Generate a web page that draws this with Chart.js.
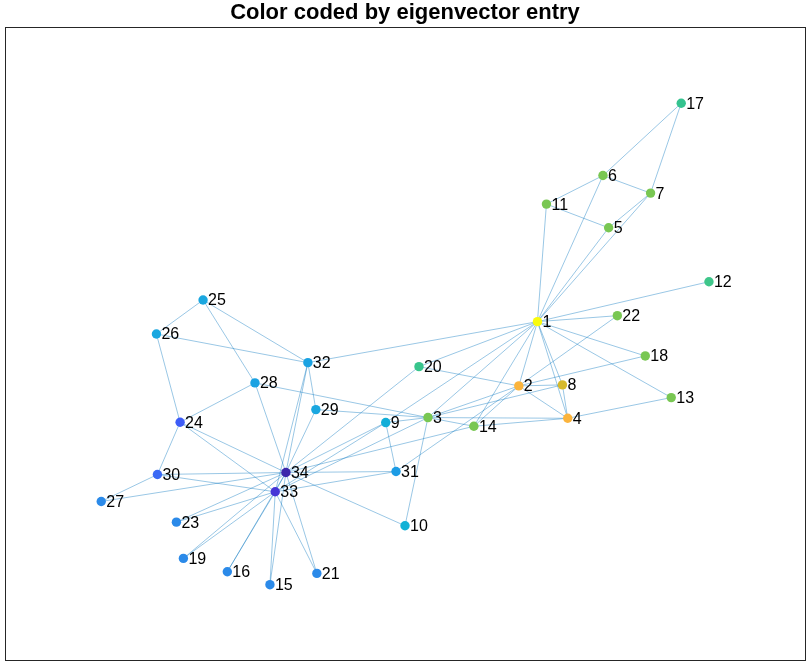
<!DOCTYPE html>
<html>
<head>
<meta charset="utf-8">
<script src="https://cdn.jsdelivr.net/npm/chart.js@4.4.0/dist/chart.umd.min.js"></script>
<style>
  html, body { margin: 0; padding: 0; background: #fff; }
  #wrap { width: 810px; height: 666px; position: relative; }
</style>
</head>
<body>
<div id="wrap"><canvas id="graph"></canvas></div>
<script>
// node layout (x to the right, y upward) and labels
var nodeLabels = ['1','2','3','4','5','6','7','8','9','10','11','12','13','14','15','16','17',
                  '18','19','20','21','22','23','24','25','26','27','28','29','30','31','32','33','34'];
var nodeX = [533.7, 515.0, 424.0, 564.0, 605.0, 599.3, 647.0, 558.7, 381.7, 401.0, 542.7, 705.5, 667.7,
             470.0, 265.7, 223.0, 677.7, 641.7, 179.0, 415.0, 312.7, 613.7, 172.0, 175.7, 198.7, 152.0,
             96.7, 250.7, 311.7, 153.0, 392.0, 303.7, 271.0, 281.7];
var nodeY = [340.0, 275.7, 244.0, 243.3, 434.0, 486.3, 468.7, 276.7, 239.0, 135.7, 457.7, 380.0, 264.0,
             235.3, 76.7, 89.7, 558.7, 305.7, 103.0, 295.0, 88.0, 346.0, 139.3, 239.3, 361.7, 327.7,
             160.0, 278.7, 252.0, 187.0, 190.0, 299.0, 169.7, 189.0];
// colour of each node (eigenvector entry mapped through the colormap)
var nodeColors = ['#f9fb0e', '#fbb43c', '#79c753', '#fbb43c', '#79c753', '#79c753', '#79c753', '#d6b92a',
                  '#12aed8', '#12b1d6', '#79c753', '#3ec68a', '#79c753', '#79c753', '#2b8ae9', '#2b8ae9',
                  '#35c38f', '#79c753', '#2b8ae9', '#38c58c', '#2b8ae9', '#79c753', '#2b8ae9', '#3d5cf7',
                  '#1aa7e0', '#1aa7e0', '#2b8ae9', '#1aa2e2', '#1aa7e0', '#3a69f5', '#1d9ce5', '#1aa2e2',
                  '#4535d6', '#3b27ab'];
// edges (1-based node numbers)
var edgeFrom = [1,1,1,1,1,1,1,1,1,1,1,1,1,1,1,1, 2,2,2,2,2,2,2,2, 3,3,3,3,3,3,3,3, 4,4,4, 5,5, 6,6,6, 7,
                9,9,9, 10, 14, 15,15, 16,16, 19,19, 20, 21,21, 23,23, 24,24,24,24,24, 25,25,25, 26,
                27,27, 28, 29,29, 30,30, 31,31, 32,32, 33];
var edgeTo   = [2,3,4,5,6,7,8,9,11,12,13,14,18,20,22,32, 3,4,8,14,18,20,22,31, 4,8,9,10,14,28,29,33, 8,13,14, 7,11, 7,11,17, 17,
                31,33,34, 34, 34, 33,34, 33,34, 33,34, 34, 33,34, 33,34, 26,28,30,33,34, 26,28,32, 32,
                30,34, 34, 32,34, 33,34, 33,34, 33,34, 34];

var points = nodeX.map(function(x, i) { return { x: x, y: nodeY[i] }; });

var datasets = [{
    label: 'nodes',
    data: points,
    pointRadius: 4.7,
    pointHoverRadius: 4.7,
    pointBackgroundColor: nodeColors,
    pointBorderColor: nodeColors,
    pointBorderWidth: 0,
    showLine: false,
    order: 0
}];
for (var e = 0; e < edgeFrom.length; e++) {
    datasets.push({
        label: 'edge' + e,
        data: [points[edgeFrom[e] - 1], points[edgeTo[e] - 1]],
        showLine: true,
        borderColor: 'rgba(0,114,189,0.5)',
        borderWidth: 0.8,
        pointRadius: 0,
        pointHoverRadius: 0,
        fill: false,
        order: 1
    });
}

var frameAndLabels = {
    id: 'frameAndLabels',
    afterDatasetsDraw: function(chart) {
        var ctx = chart.ctx, a = chart.chartArea;
        var xs = chart.scales.x, ys = chart.scales.y;
        ctx.save();
        ctx.fillStyle = '#000';
        ctx.font = '16px "Liberation Sans", Arial, sans-serif';
        ctx.textAlign = 'left';
        ctx.textBaseline = 'middle';
        for (var i = 0; i < nodeLabels.length; i++) {
            ctx.fillText(nodeLabels[i], xs.getPixelForValue(nodeX[i]) + 5, ys.getPixelForValue(nodeY[i]) + 1);
        }
        ctx.strokeStyle = '#262626';
        ctx.lineWidth = 1;
        ctx.strokeRect(Math.round(a.left) + 0.5, Math.round(a.top) + 0.5,
                       Math.round(a.width) - 1, Math.round(a.height) - 1);
        ctx.restore();
    }
};

new Chart(document.getElementById('graph').getContext('2d'), {
    type: 'scatter',
    data: { datasets: datasets },
    options: {
        responsive: true,
        maintainAspectRatio: false,
        animation: false,
        events: [],
        layout: { padding: { left: 4, right: 4, bottom: 4, top: 0 } },
        plugins: {
            legend: { display: false },
            tooltip: { enabled: false },
            title: {
                display: true,
                text: 'Color coded by eigenvector entry',
                color: '#000',
                font: { family: '"Liberation Sans", Arial, sans-serif', size: 22, weight: 'bold', lineHeight: 1.2 },
                padding: { top: 0, bottom: 0.6 }
            }
        },
        scales: {
            x: { type: 'linear', min: 0, max: 802, display: false },
            y: { type: 'linear', min: 0, max: 635, display: false }
        }
    },
    plugins: [frameAndLabels]
});
</script>
</body>
</html>
